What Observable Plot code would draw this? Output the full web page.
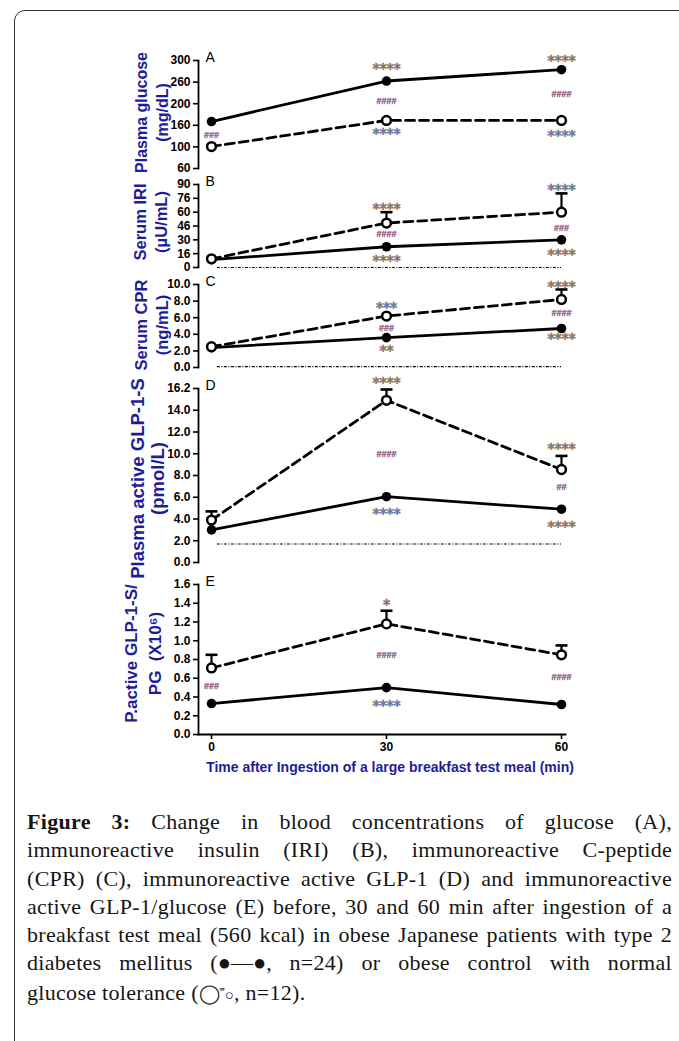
<!DOCTYPE html>
<html>
<head>
<meta charset="utf-8">
<script src="https://cdn.jsdelivr.net/npm/d3@7"></script>
<script src="https://cdn.jsdelivr.net/npm/@observablehq/plot@0.6"></script>
<style>
  html, body { margin: 0; padding: 0; background: #fff; width: 679px; height: 1041px; overflow: hidden; }
  #border { position: absolute; left: 14px; top: 10px; width: 740px; height: 1100px; border: 1.4px solid #333; border-radius: 11px 0 0 0; box-sizing: border-box; }
  .panel { position: absolute; left: 0; }
  #caption { position: absolute; left: 27px; top: 808px; width: 645px; font-family: "Liberation Serif", "Times New Roman", serif; font-size: 22px; line-height: 28.3px; color: #151515; letter-spacing: 0.3px; }
  #caption .ln { text-align: justify; text-align-last: justify; }
  #caption .ln.last { text-align: left; text-align-last: left; }
  #caption .sym { display: inline-block; letter-spacing: 0; }
  #caption b { font-weight: bold; }
</style>
</head>
<body>
<div id="border"></div>
<div id="charts"></div>
<div id="caption">
  <div class="ln"><b>Figure 3:</b> Change in blood concentrations of glucose (A),</div>
  <div class="ln">immunoreactive insulin (IRI) (B), immunoreactive C-peptide</div>
  <div class="ln">(CPR) (C), immunoreactive active GLP-1 (D) and immunoreactive</div>
  <div class="ln">active GLP-1/glucose (E) before, 30 and 60 min after ingestion of a</div>
  <div class="ln">breakfast test meal (560 kcal) in obese Japanese patients with type 2</div>
  <div class="ln">diabetes mellitus <span class="sym">(●—●,</span> n=24) or obese control with normal</div>
  <div class="ln last">glucose tolerance (<span class="sym"><span style="font-size:19px">◯</span><span style="font-size:12px;vertical-align:4px">‴</span><span style="font-size:15px">○</span></span>, n=12).</div>
</div>
<script>
// ---------- data ----------
const times = [0, 30, 60];

// A: plasma glucose (mg/dL)
const glucoseTicks = [60, 100, 160, 200, 260, 300];
const glucoseDM = [167, 262, 283];
const glucoseCtrl = [101, 169, 169];
const glucoseCtrlSE = [null, null, null];
const glucoseNotes = [
  {t: 0, v: 134, s: "###"},
  {t: 30, v: 291, s: "****"}, {t: 30, v: 206, s: "####"}, {t: 30, v: 146, s: "****"},
  {t: 60, v: 306, s: "****"}, {t: 60, v: 228, s: "####"}, {t: 60, v: 140, s: "****"}
];

// B: serum IRI (µU/mL)
const iriTicks = [0, 16, 30, 46, 60, 76, 90];
const iriDM = [9, 23, 30];
const iriCtrl = [10, 49, 60];
const iriCtrlSE = [null, 60, 81];
const iriNotes = [
  {t: 30, v: 68, s: "****"}, {t: 30, v: 37, s: "####"}, {t: 30, v: 11.5, s: "****"},
  {t: 60, v: 88, s: "****"}, {t: 60, v: 43, s: "###"}, {t: 60, v: 19, s: "****"}
];
const iriLimit = 0;

// C: serum CPR (ng/mL)
const cprTicks = [0, 2, 4, 6, 8, 10];
const cprDM = [2.4, 3.6, 4.7];
const cprCtrl = [2.5, 6.2, 8.2];
const cprCtrlSE = [null, null, 9.4];
const cprNotes = [
  {t: 30, v: 7.6, s: "***"}, {t: 30, v: 4.8, s: "###"}, {t: 30, v: 2.4, s: "**"},
  {t: 60, v: 10.1, s: "****"}, {t: 60, v: 6.5, s: "####"}, {t: 60, v: 3.9, s: "****"}
];
const cprLimit = 0.1;

// D: plasma active GLP-1-S (pmol/L)
const glpTicks = [0, 2, 4, 6, 8, 10, 12, 14, 16.2];
const glpDM = [3.0, 6.05, 4.9];
const glpCtrl = [3.9, 15.0, 8.55];
const glpCtrlSE = [4.7, 16.1, 9.8];
const glpNotes = [
  {t: 30, v: 17.1, s: "****"}, {t: 30, v: 10.0, s: "####"}, {t: 30, v: 4.8, s: "****"},
  {t: 60, v: 10.8, s: "****"}, {t: 60, v: 6.9, s: "##"}, {t: 60, v: 3.65, s: "****"}
];
const glpLimit = 1.7;

// E: P.active GLP-1-S / PG (x10^6)
const ratioTicks = [0, 0.2, 0.4, 0.6, 0.8, 1.0, 1.2, 1.4, 1.6];
const ratioDM = [0.33, 0.50, 0.32];
const ratioCtrl = [0.71, 1.18, 0.85];
const ratioCtrlSE = [0.85, 1.32, 0.95];
const ratioNotes = [
  {t: 0, v: 0.52, s: "###"},
  {t: 30, v: 1.42, s: "*"}, {t: 30, v: 0.85, s: "####"}, {t: 30, v: 0.35, s: "****"},
  {t: 60, v: 0.61, s: "####"}
];

const xTicks = [0, 30, 60];
const xTitle = "Time after Ingestion of a large breakfast test meal (min)";

// ---------- drawing ----------
const navy = "#1d1d9a";
const capSymbol = {
  draw(context, size) {
    const w = Math.sqrt(size / Math.PI);
    context.moveTo(-w, 0);
    context.lineTo(w, 0);
  }
};

function panel(cfg) {
  const mt = 14;
  const mb = cfg.xAxis ? 48 : 4;
  const inner = cfg.bottomPx - cfg.topPx;
  const height = mt + inner + mb;
  const n = cfg.ticks.length;
  const yRange = cfg.ticks.map((_, i) => mt + inner - i * inner / (n - 1));
  const rows = times.map((t, i) => ({t, dm: cfg.dm[i], ctrl: cfg.ctrl[i], hi: cfg.se[i]}));
  const errRows = rows.filter(d => d.hi != null);
  const stars = cfg.notes.filter(d => d.s[0] === "*");
  const hashes = cfg.notes.filter(d => d.s[0] === "#");

  const marks = [
    Plot.frame({anchor: "left", stroke: "black", strokeWidth: 1.8}),
    Plot.axisY({ticks: cfg.ticks, tickFormat: cfg.fmt, tickSize: 5, tickPadding: 3, strokeWidth: 1.6, label: null,
      fontSize: 12, fontWeight: "bold", fill: "black", stroke: "black"}),
  ];
  if (cfg.limit != null) {
    marks.push(Plot.ruleY([cfg.limit], {x1: 1, x2: 60, stroke: "black", strokeWidth: 1.1, strokeDasharray: "3,1.5,1,1.5"}));
  }
  marks.push(
    Plot.line(rows, {x: "t", y: "dm", stroke: "black", strokeWidth: 2.8}),
    Plot.line(rows, {x: "t", y: "ctrl", stroke: "black", strokeWidth: 2.8, strokeDasharray: "9,5"}),
    Plot.ruleX(errRows, {x: "t", y1: "ctrl", y2: "hi", stroke: "black", strokeWidth: 2.2}),
    Plot.dot(errRows, {x: "t", y: "hi", symbol: capSymbol, r: 6, stroke: "black", strokeWidth: 2.6}),
    Plot.dot(rows, {x: "t", y: "dm", r: 4.8, fill: "black"}),
    Plot.dot(rows, {x: "t", y: "ctrl", r: 4.4, fill: "white", stroke: "black", strokeWidth: 2.5}),
    Plot.text(stars, {x: "t", y: "v", text: "s", dy: 3.5, fontFamily: "DejaVu Sans", fontSize: 13.5, fontWeight: "bold",
      fill: "#4f7fd0", stroke: "#f0a63c", strokeWidth: 0.9, paintOrder: "stroke"}),
    Plot.text(hashes, {x: "t", y: "v", text: "s", fontFamily: "Liberation Sans", fontSize: 9, fontWeight: "bold",
      fill: "#b0576a", stroke: "#8ea8e0", strokeWidth: 0.5, paintOrder: "stroke"}),
    Plot.text([cfg.letter], {frameAnchor: "top-left", dx: 7, dy: -3, lineAnchor: "middle", textAnchor: "start",
      fontSize: 14, fontWeight: "normal", fill: "black"}),
    Plot.text([cfg.title], {frameAnchor: "left", rotate: -90, dx: cfg.tdx, dy: cfg.tdy, textAnchor: "middle", lineAnchor: "middle",
      fontSize: cfg.tfs, lineHeight: cfg.tlh, fontWeight: "bold", fill: navy})
  );
  if (cfg.xAxis) {
    marks.push(
      Plot.frame({anchor: "bottom", stroke: "black", strokeWidth: 1.8}),
      Plot.axisX({ticks: xTicks, tickSize: 5, tickPadding: 3, strokeWidth: 1.6, label: null,
        fontSize: 12, fontWeight: "bold", fill: "black", stroke: "black"}),
      Plot.text([xTitle], {frameAnchor: "bottom", dx: 8, dy: 33, lineAnchor: "middle", fontSize: 14, fontWeight: "bold", fill: navy})
    );
  }

  const chart = Plot.plot({
    width: 679,
    height,
    marginLeft: 198,
    marginRight: 114,
    marginTop: mt,
    marginBottom: mb,
    style: {fontFamily: "Liberation Sans, Arial, sans-serif", fontSize: "12px", fontWeight: "bold", color: "black", background: "transparent", overflow: "visible"},
    x: {type: "linear", domain: [0, 60], insetLeft: 13, insetRight: 4, axis: cfg.xAxis ? undefined : null},
    y: {type: "linear", domain: cfg.ticks, range: yRange, label: null},
    marks
  });
  const div = document.createElement("div");
  div.className = "panel";
  div.style.top = (cfg.topPx - mt) + "px";
  div.appendChild(chart);
  document.getElementById("charts").appendChild(div);
}

const f1 = d3.format(".1f");
panel({letter: "A", title: "Plasma glucose\n(mg/dL)", ticks: glucoseTicks, fmt: d => d, dm: glucoseDM, ctrl: glucoseCtrl, se: glucoseCtrlSE,
  notes: glucoseNotes, limit: null, topPx: 60, bottomPx: 168, tdx: -47.5, tdy: -2, tfs: 16, tlh: 1.31});
panel({letter: "B", title: "Serum IRI\n(µU/mL)", ticks: iriTicks, fmt: d => d, dm: iriDM, ctrl: iriCtrl, se: iriCtrlSE,
  notes: iriNotes, limit: iriLimit, topPx: 184, bottomPx: 267, tdx: -48.5, tdy: -4, tfs: 16.5, tlh: 1.27});
panel({letter: "C", title: "Serum CPR\n(ng/mL)", ticks: cprTicks, fmt: f1, dm: cprDM, ctrl: cprCtrl, se: cprCtrlSE,
  notes: cprNotes, limit: cprLimit, topPx: 284, bottomPx: 367, tdx: -47.5, tdy: -1, tfs: 16.5, tlh: 1.27});
panel({letter: "D", title: "Plasma active GLP-1-S\n(pmol/L)", ticks: glpTicks, fmt: f1, dm: glpDM, ctrl: glpCtrl, se: glpCtrlSE,
  notes: glpNotes, limit: glpLimit, topPx: 388, bottomPx: 562, tdx: -51, tdy: 3, tfs: 18.5, tlh: 1.1});
panel({letter: "E", title: "P.active GLP-1-S/\nPG  (X10⁶)", ticks: ratioTicks, fmt: f1, dm: ratioDM, ctrl: ratioCtrl, se: ratioCtrlSE,
  notes: ratioNotes, limit: null, topPx: 584, bottomPx: 734, tdx: -57, tdy: -6, tfs: 17, tlh: 1.4, xAxis: true});
</script>
</body>
</html>
